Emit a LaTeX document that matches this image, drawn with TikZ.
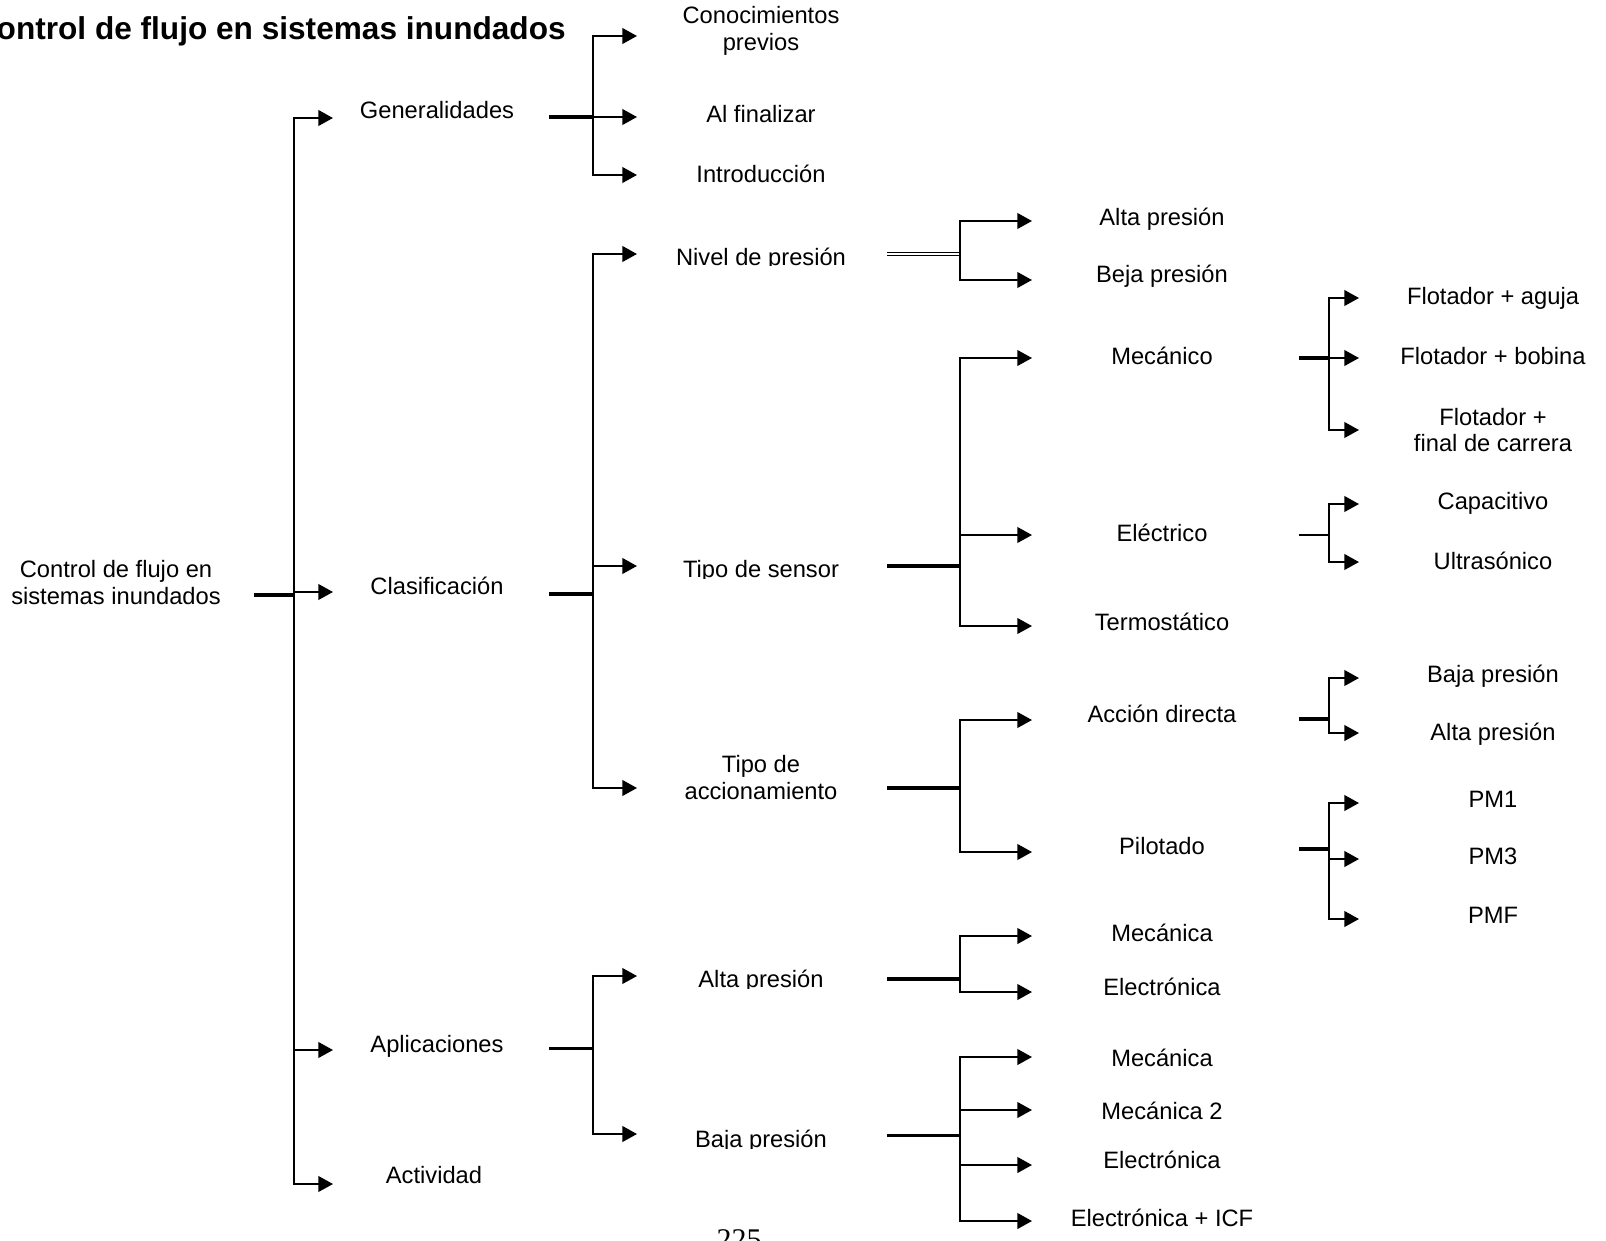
\documentclass[tikz,border=0pt]{standalone}
\usepackage{fontspec}
\setmainfont{Liberation Sans}
\newfontfamily\pagefont{Liberation Serif}
\usetikzlibrary{arrows.meta}
\begin{document}
\begin{tikzpicture}[x=0.5pt,y=-0.5pt,
  lbl/.style={inner sep=0pt, anchor=base, font=\fontsize{11.85}{13.3}\selectfont},
  lbltwo/.style={inner sep=0pt, anchor=center, align=center, font=\fontsize{11.85}{13.3}\selectfont},
  arr/.style={line width=1pt, -{Triangle[length=7.3pt,width=7.8pt]}},
  bus/.style={line width=1.15pt, line cap=rect},
  stubthick/.style={line width=2.4pt},
  stubmid/.style={line width=1.9pt},
  stubthin/.style={line width=1.5pt},
  stubhair/.style={line width=1pt},
  stubdouble/.style={double, line width=0.75pt, double distance=0.8pt}
]
\useasboundingbox (0,0) rectangle (1606,1241);
\clip (0,0) rectangle (1606,1241);

% title and page number
\node[inner sep=0pt, anchor=base east, font=\bfseries\fontsize{15.8}{18}\selectfont] (title) at (566,40) {Control de flujo en sistemas inundados};
\node[inner sep=0pt, anchor=base, font=\pagefont\fontsize{15}{17}\selectfont] (pg) at (739,1249) {225};

% level 0/1
\node[lbltwo] (root) at (116,582.5) {Control de flujo en\\sistemas inundados};
\node[lbl] (gen) at (437,118.4) {Generalidades};
\node[lbl] (cla) at (437,594.4) {Clasificación};
\node[lbl] (apl) at (437,1052.4) {Aplicaciones};
\node[lbl] (act) at (434,1183.4) {Actividad};

% level 2
\node[lbltwo] (con) at (761,31) {Conocimientos\\previos};
\node[lbl] (fin) at (761,122.4) {Al finalizar};
\node[lbl] (intro) at (761,182.4) {Introducción};
\begin{scope}\clip (650,230) rectangle (880,266);
\node[lbl] (niv) at (761,265.4) {Nivel de presión};\end{scope}
\begin{scope}\clip (650,540) rectangle (880,578);
\node[lbl] (sen) at (761,577.4) {Tipo de sensor};\end{scope}
\node[lbltwo] (acc) at (761,777.5) {Tipo de\\accionamiento};
\begin{scope}\clip (650,950) rectangle (880,988);
\node[lbl] (altA) at (761,987.4) {Alta presión};\end{scope}
\begin{scope}\clip (650,1110) rectangle (880,1148);
\node[lbl] (bajA) at (761,1147.4) {Baja presión};\end{scope}

% level 3
\node[lbl] (altN) at (1162,225.4) {Alta presión};
\node[lbl] (bejN) at (1162,282.4) {Beja presión};
\node[lbl] (mec) at (1162,364.4) {Mecánico};
\node[lbl] (ele) at (1162,541.4) {Eléctrico};
\node[lbl] (ter) at (1162,630.4) {Termostático};
\node[lbl] (dir) at (1162,722.4) {Acción directa};
\node[lbl] (pil) at (1162,854.4) {Pilotado};
\node[lbl] (mecAa) at (1162,941.4) {Mecánica};
\node[lbl] (eleAa) at (1162,995.4) {Electrónica};
\node[lbl] (mecBa) at (1162,1066.4) {Mecánica};
\node[lbl] (mecBb) at (1162,1119.4) {Mecánica 2};
\node[lbl] (eleBa) at (1162,1168.4) {Electrónica};
\node[lbl] (eleBb) at (1162,1226.4) {Electrónica + ICF};

% level 4
\node[lbl] (fa) at (1493,304.4) {Flotador + aguja};
\node[lbl] (fb) at (1493,364.4) {Flotador + bobina};
\node[lbltwo] (fc) at (1493,430) {Flotador +\\final de carrera};
\node[lbl] (cap) at (1493,509.4) {Capacitivo};
\node[lbl] (ult) at (1493,569.4) {Ultrasónico};
\node[lbl] (bp) at (1493,682.4) {Baja presión};
\node[lbl] (ap) at (1493,740.4) {Alta presión};
\node[lbl] (pma) at (1493,807.4) {PM1};
\node[lbl] (pmb) at (1493,864.4) {PM3};
\node[lbl] (pmf) at (1493,923.4) {PMF};

% ---- connectors ----
% root
\coordinate (s-root) at (254,595); \coordinate (j-root) at (294,595);
\coordinate (t-gen) at (333,118); \coordinate (t-cla) at (333,592);
\coordinate (t-apl) at (333,1050); \coordinate (t-act) at (333,1184);
\draw[stubthick] (s-root) -- (j-root);
\draw[bus] (t-gen -| j-root) -- (t-act -| j-root);
\foreach \c in {gen,cla,apl,act} \draw[arr] (t-\c -| j-root) -- (t-\c);

% Generalidades
\coordinate (s-gen) at (549,117); \coordinate (j-gen) at (593,117);
\coordinate (t-con) at (637,36); \coordinate (t-fin) at (637,117); \coordinate (t-intro) at (637,175);
\draw[stubthick] (s-gen) -- (j-gen);
\draw[bus] (t-con -| j-gen) -- (t-intro -| j-gen);
\foreach \c in {con,fin,intro} \draw[arr] (t-\c -| j-gen) -- (t-\c);

% Clasificacion
\coordinate (s-cla) at (549,594); \coordinate (j-cla) at (593,594);
\coordinate (t-niv) at (637,254); \coordinate (t-sen) at (637,566); \coordinate (t-acc) at (637,788);
\draw[stubthick] (s-cla) -- (j-cla);
\draw[bus] (t-niv -| j-cla) -- (t-acc -| j-cla);
\foreach \c in {niv,sen,acc} \draw[arr] (t-\c -| j-cla) -- (t-\c);

% Aplicaciones
\coordinate (s-apl) at (549,1048); \coordinate (j-apl) at (593,1048);
\coordinate (t-altA) at (637,976); \coordinate (t-bajA) at (637,1134);
\draw[stubthin] (s-apl) -- (j-apl);
\draw[bus] (t-altA -| j-apl) -- (t-bajA -| j-apl);
\foreach \c in {altA,bajA} \draw[arr] (t-\c -| j-apl) -- (t-\c);

% Nivel de presion
\coordinate (s-niv) at (887,254); \coordinate (j-niv) at (960,254);
\coordinate (t-altN) at (1032,221); \coordinate (t-bejN) at (1032,280);
\draw[stubdouble] (s-niv) -- (j-niv);
\draw[bus] (t-altN -| j-niv) -- (t-bejN -| j-niv);
\foreach \c in {altN,bejN} \draw[arr] (t-\c -| j-niv) -- (t-\c);

% Tipo de sensor
\coordinate (s-sen) at (887,566); \coordinate (j-sen) at (960,566);
\coordinate (t-mec) at (1032,358); \coordinate (t-ele) at (1032,535); \coordinate (t-ter) at (1032,626);
\draw[stubmid] (s-sen) -- (j-sen);
\draw[bus] (t-mec -| j-sen) -- (t-ter -| j-sen);
\foreach \c in {mec,ele,ter} \draw[arr] (t-\c -| j-sen) -- (t-\c);

% Tipo de accionamiento
\coordinate (s-acc) at (887,788); \coordinate (j-acc) at (960,788);
\coordinate (t-dir) at (1032,720); \coordinate (t-pil) at (1032,852);
\draw[stubmid] (s-acc) -- (j-acc);
\draw[bus] (t-dir -| j-acc) -- (t-pil -| j-acc);
\foreach \c in {dir,pil} \draw[arr] (t-\c -| j-acc) -- (t-\c);

% Alta presion (aplicaciones)
\coordinate (s-altA) at (887,979); \coordinate (j-altA) at (960,979);
\coordinate (t-mecAa) at (1032,936); \coordinate (t-eleAa) at (1032,992);
\draw[stubthick] (s-altA) -- (j-altA);
\draw[bus] (t-mecAa -| j-altA) -- (t-eleAa -| j-altA);
\foreach \c in {mecAa,eleAa} \draw[arr] (t-\c -| j-altA) -- (t-\c);

% Baja presion (aplicaciones)
\coordinate (s-bajA) at (887,1135); \coordinate (j-bajA) at (960,1135);
\coordinate (t-mecBa) at (1032,1057); \coordinate (t-mecBb) at (1032,1110);
\coordinate (t-eleBa) at (1032,1165); \coordinate (t-eleBb) at (1032,1221);
\draw[stubthin] (s-bajA) -- (j-bajA);
\draw[bus] (t-mecBa -| j-bajA) -- (t-eleBb -| j-bajA);
\foreach \c in {mecBa,mecBb,eleBa,eleBb} \draw[arr] (t-\c -| j-bajA) -- (t-\c);

% Mecanico
\coordinate (s-mec) at (1299,358); \coordinate (j-mec) at (1329,358);
\coordinate (t-fa) at (1359,298); \coordinate (t-fb) at (1359,358); \coordinate (t-fc) at (1359,430);
\draw[stubthick] (s-mec) -- (j-mec);
\draw[bus] (t-fa -| j-mec) -- (t-fc -| j-mec);
\foreach \c in {fa,fb,fc} \draw[arr] (t-\c -| j-mec) -- (t-\c);

% Electrico
\coordinate (s-ele) at (1299,535); \coordinate (j-ele) at (1329,535);
\coordinate (t-cap) at (1359,504); \coordinate (t-ult) at (1359,562);
\draw[stubhair] (s-ele) -- (j-ele);
\draw[bus] (t-cap -| j-ele) -- (t-ult -| j-ele);
\foreach \c in {cap,ult} \draw[arr] (t-\c -| j-ele) -- (t-\c);

% Accion directa
\coordinate (s-dir) at (1299,719); \coordinate (j-dir) at (1329,719);
\coordinate (t-bp) at (1359,678); \coordinate (t-ap) at (1359,733);
\draw[stubthick] (s-dir) -- (j-dir);
\draw[bus] (t-bp -| j-dir) -- (t-ap -| j-dir);
\foreach \c in {bp,ap} \draw[arr] (t-\c -| j-dir) -- (t-\c);

% Pilotado
\coordinate (s-pil) at (1299,849); \coordinate (j-pil) at (1329,849);
\coordinate (t-pma) at (1359,803); \coordinate (t-pmb) at (1359,859); \coordinate (t-pmf) at (1359,919);
\draw[stubthick] (s-pil) -- (j-pil);
\draw[bus] (t-pma -| j-pil) -- (t-pmf -| j-pil);
\foreach \c in {pma,pmb,pmf} \draw[arr] (t-\c -| j-pil) -- (t-\c);
\end{tikzpicture}
\end{document}
